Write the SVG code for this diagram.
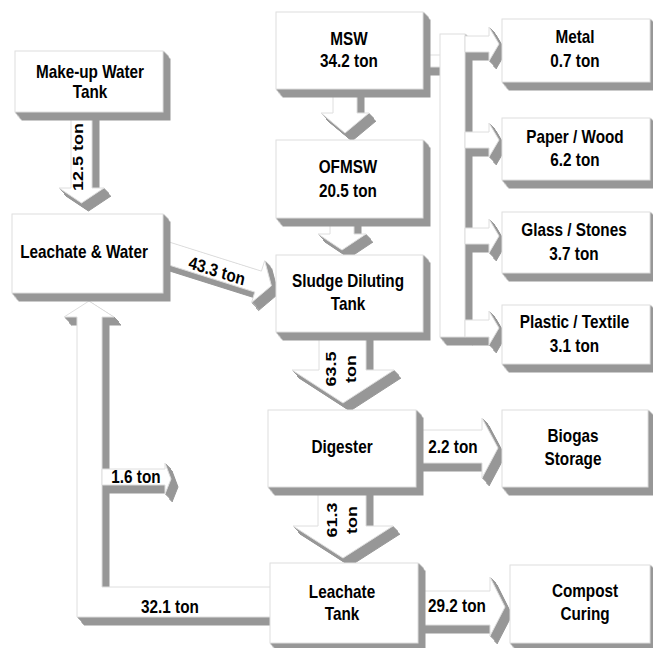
<svg xmlns="http://www.w3.org/2000/svg" width="653" height="648" viewBox="0 0 653 648">
<defs>
<filter id="ext" filterUnits="userSpaceOnUse" x="0" y="0" width="653" height="648" color-interpolation-filters="sRGB">
<feOffset in="SourceAlpha" dx="1" dy="1" result="o1"/>
<feOffset in="SourceAlpha" dx="2" dy="2" result="o2"/>
<feOffset in="SourceAlpha" dx="3" dy="3" result="o3"/>
<feOffset in="SourceAlpha" dx="3.5" dy="4" result="o4"/>
<feOffset in="SourceAlpha" dx="4.5" dy="5" result="o5"/>
<feOffset in="SourceAlpha" dx="5" dy="6" result="o6"/>
<feOffset in="SourceAlpha" dx="6" dy="7" result="o7"/>
<feOffset in="SourceAlpha" dx="7" dy="8" result="o8"/>
<feMerge result="m"><feMergeNode in="o1"/><feMergeNode in="o2"/><feMergeNode in="o3"/><feMergeNode in="o4"/><feMergeNode in="o5"/><feMergeNode in="o6"/><feMergeNode in="o7"/><feMergeNode in="o8"/></feMerge>
<feFlood flood-color="#979797"/>
<feComposite in2="m" operator="in" result="g"/>
<feMerge><feMergeNode in="g"/><feMergeNode in="SourceGraphic"/></feMerge>
</filter>
<style>
.s{fill:#fff;stroke:#dedede;stroke-width:1}
.x{filter:url(#ext)}
text{font-family:"Liberation Sans",Arial,sans-serif;font-weight:bold;font-size:18px;fill:#000;text-anchor:middle}
</style>
</defs>
<rect width="653" height="648" fill="#fff"/>

<g id="connectors">
  <!-- MSW to separation bar -->
  <g class="x"><rect class="s" x="418" y="55" width="25" height="12"/></g>
  <g class="x"><rect class="s" x="440" y="34" width="25" height="303"/></g>
  <g class="x"><path class="s" d="M465,36 H489 V27 L499,44 L489,61 V52 H465 Z"/></g>
  <g class="x"><path class="s" d="M465,132 H489 V123 L499,140 L489,157 V148 H465 Z"/></g>
  <g class="x"><path class="s" d="M465,228 H489 V219 L499,236 L489,253 V244 H465 Z"/></g>
  <g class="x"><path class="s" d="M465,320 H489 V311 L499,328 L489,345 V337 H465 Z"/></g>

  <!-- Make-up -> Leachate & Water -->
  <g class="x"><path class="s" d="M71,108 H92 V188 H104 L81.5,203 L59,188 H71 Z"/></g>
  <!-- MSW -> OFMSW -->
  <g class="x"><path class="s" d="M333,85 H357 V113 H369 L345,133 L321,113 H333 Z"/></g>
  <!-- OFMSW -> Sludge -->
  <g class="x"><path class="s" d="M330,214 H354 V234 H366 L342,250 L318,234 H330 Z"/></g>
  <!-- Sludge -> Digester -->
  <g class="x"><path class="s" d="M319,328 H366 V370 H394 L343,403 L292,370 H319 Z"/></g>
  <!-- Digester -> Leachate Tank -->
  <g class="x"><path class="s" d="M318,484 H366 V526 H393 L343,558 L293,526 H318 Z"/></g>
  <!-- Digester -> Biogas -->
  <g class="x"><path class="s" d="M410,430 H482 V418 L498,448 L482,478 V463 H410 Z"/></g>
  <!-- Leachate Tank -> Compost -->
  <g class="x"><path class="s" d="M412,591 H490 V577 L505,607 L490,636 V625 H412 Z"/></g>
  <!-- Leachate & Water -> Sludge (diagonal) -->
  <g class="x"><path class="s" d="M166,241 L261.4,271.1 L264.7,260.6 L271.4,285.8 L251.5,302.6 L254.8,292.1 L159.4,262 Z"/></g>
  <!-- Leachate Tank -> Leachate & Water (L arrow) -->
  <g class="x"><path class="s" d="M89,301 L114,317 H102 V587 H280 V617 H77 V317 H64 Z"/></g>
  <!-- 1.6 ton branch -->
  <g class="x"><path class="s" d="M102,469 H165 V463 L171,479 L165,494 V485 H102 Z"/></g>

  <text transform="translate(83,157) scale(.85,1) rotate(-90)">12.5 ton</text>
  <text transform="translate(336,369) scale(.85,1) rotate(-90)"><tspan x="0" y="0">63.5</tspan><tspan x="0" y="23.5">ton</tspan></text>
  <text transform="translate(337,520) scale(.85,1) rotate(-90)"><tspan x="0" y="0">61.3</tspan><tspan x="0" y="23.5">ton</tspan></text>
  <text transform="translate(217,271) scale(.85,1) rotate(15)" y="6">43.3 ton</text>
  <text transform="translate(453,0) scale(.85,1)" y="453">2.2 ton</text>
  <text transform="translate(136,0) scale(.85,1)" y="483">1.6 ton</text>
  <text transform="translate(170,0) scale(.85,1)" y="613">32.1 ton</text>
  <text transform="translate(457,0) scale(.85,1)" y="612">29.2 ton</text>
</g>

<g id="makeup">
  <g class="x"><rect class="s" x="15" y="51" width="148" height="61"/></g>
  <text transform="translate(90,0) scale(.85,1)"><tspan x="0" y="77.7">Make-up Water</tspan><tspan x="0" y="98.5">Tank</tspan></text>
</g>
<g id="msw">
  <g class="x"><rect class="s" x="276" y="12" width="147" height="77"/></g>
  <text transform="translate(349,0) scale(.85,1)"><tspan x="0" y="45">MSW</tspan><tspan x="0" y="66.7">34.2 ton</tspan></text>
</g>
<g id="ofmsw">
  <g class="x"><rect class="s" x="276" y="140" width="147" height="78"/></g>
  <text transform="translate(348,0) scale(.85,1)"><tspan x="0" y="173">OFMSW</tspan><tspan x="0" y="196.7">20.5 ton</tspan></text>
</g>
<g id="sludge">
  <g class="x"><rect class="s" x="276" y="255" width="147" height="77"/></g>
  <text transform="translate(348,0) scale(.85,1)"><tspan x="0" y="286.7">Sludge Diluting</tspan><tspan x="0" y="310">Tank</tspan></text>
</g>
<g id="digester">
  <g class="x"><rect class="s" x="268" y="410" width="148" height="77"/></g>
  <text transform="translate(342,0) scale(.85,1)" y="453">Digester</text>
</g>
<g id="leachate-tank">
  <g class="x"><rect class="s" x="270" y="563" width="148" height="80"/></g>
  <text transform="translate(342,0) scale(.85,1)"><tspan x="0" y="598.3">Leachate</tspan><tspan x="0" y="620">Tank</tspan></text>
</g>
<g id="leachate-water">
  <g class="x"><rect class="s" x="12" y="214" width="151" height="79"/></g>
  <text transform="translate(84,0) scale(.85,1)" y="258.3">Leachate &amp; Water</text>
</g>
<g id="metal">
  <g class="x"><rect class="s" x="502" y="19" width="148" height="63"/></g>
  <text transform="translate(575,0) scale(.85,1)"><tspan x="0" y="43.3">Metal</tspan><tspan x="0" y="66.7">0.7 ton</tspan></text>
</g>
<g id="paper">
  <g class="x"><rect class="s" x="502" y="118" width="148" height="62"/></g>
  <text transform="translate(575,0) scale(.85,1)"><tspan x="0" y="142.7">Paper / Wood</tspan><tspan x="0" y="166">6.2 ton</tspan></text>
</g>
<g id="glass">
  <g class="x"><rect class="s" x="502" y="212" width="148" height="61"/></g>
  <text transform="translate(574,0) scale(.85,1)"><tspan x="0" y="236">Glass / Stones</tspan><tspan x="0" y="260">3.7 ton</tspan></text>
</g>
<g id="plastic">
  <g class="x"><rect class="s" x="502" y="305" width="148" height="59"/></g>
  <text transform="translate(574.5,0) scale(.85,1)"><tspan x="0" y="328.3">Plastic / Textile</tspan><tspan x="0" y="351.7">3.1 ton</tspan></text>
</g>
<g id="biogas">
  <g class="x"><rect class="s" x="502" y="410" width="146" height="77"/></g>
  <text transform="translate(573,0) scale(.85,1)"><tspan x="0" y="441.7">Biogas</tspan><tspan x="0" y="465">Storage</tspan></text>
</g>
<g id="compost">
  <g class="x"><rect class="s" x="510" y="565" width="140" height="78"/></g>
  <text transform="translate(585,0) scale(.85,1)"><tspan x="0" y="596.7">Compost</tspan><tspan x="0" y="620">Curing</tspan></text>
</g>
</svg>
